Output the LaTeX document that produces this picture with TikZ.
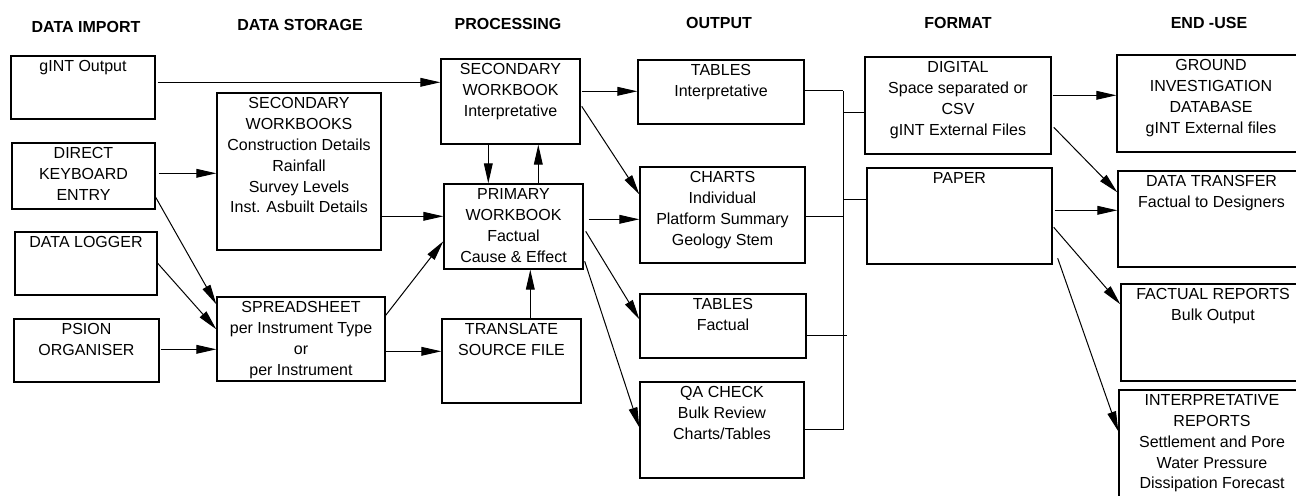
\documentclass[tikz,border=0pt]{standalone}
\usepackage{fontspec}
\setmainfont{Liberation Sans}
\usetikzlibrary{arrows.meta,calc}
\tikzset{
  boxst/.style={draw, line width=0.7pt, inner sep=0pt, rectangle},
  txt/.style={font=\fontsize{8}{10.4}\selectfont, align=center, inner sep=0pt},
  hdr/.style={font=\bfseries\fontsize{8}{10}\selectfont, inner sep=0pt},
  conn/.style={line width=0.5pt},
  arr/.style={conn, -{Triangle[length=10pt,width=4.4pt]}},
}
\newcommand\mybox[6]{%
  \node[boxst, minimum width={(#4-#2)*0.5pt}, minimum height={(#5-#3)*0.5pt}] (#1) at ({(#2+#4)/2},{(#3+#5)/2}) {};
  \node[txt, anchor=north] (#1t) at ([yshift=-2.5pt]#1.north) {#6};
}
\begin{document}
\begin{tikzpicture}[x=0.5pt,y=-0.5pt]
\clip (0,0) rectangle (1296,495);
\fill[white] (0,0) rectangle (1296,495);
% headers
\node[hdr] (h1) at (86,27) {DATA IMPORT};
\node[hdr] (h2) at (300,25) {DATA STORAGE};
\node[hdr] (h3) at (508,24) {PROCESSING};
\node[hdr] (h4) at (719,23) {OUTPUT};
\node[hdr] (h5) at (958,23) {FORMAT};
\node[hdr] (h6) at (1209,23) {END -USE};
% data import
\mybox{gint}{11}{56}{155}{119}{gINT Output}
\mybox{dke}{12}{143}{155}{209}{DIRECT\\KEYBOARD\\ENTRY}
\mybox{logger}{15}{232}{157}{295}{DATA LOGGER}
\mybox{psion}{14}{319}{159}{382}{PSION\\ORGANISER}
% storage
\mybox{secwbs}{217}{93}{381}{250}{SECONDARY\\WORKBOOKS\\Construction Details\\Rainfall\\Survey Levels\\Inst. Asbuilt Details}
\mybox{spread}{217}{297}{385}{381}{SPREADSHEET\\per Instrument Type\\or\\per Instrument}
% processing
\mybox{secwb}{441}{59}{580}{144}{SECONDARY\\WORKBOOK\\Interpretative}
\mybox{primwb}{444}{184}{583}{269}{PRIMARY\\WORKBOOK\\Factual\\Cause \& Effect}
\mybox{translate}{442}{319}{581}{403}{TRANSLATE\\SOURCE FILE}
% output
\mybox{tabint}{638}{60}{804}{124}{TABLES\\Interpretative}
\mybox{charts}{640}{167}{805}{263}{CHARTS\\Individual\\Platform Summary\\Geology Stem}
\mybox{tabfac}{640}{294}{806}{358}{TABLES\\Factual}
\mybox{qa}{640}{382}{804}{478}{QA CHECK\\Bulk Review\\Charts/Tables}
% format
\mybox{digital}{865}{57}{1051}{154}{DIGITAL\\Space separated or\\CSV\\gINT External Files}
\mybox{paper}{867}{168}{1052}{264}{PAPER}
% end use
\mybox{gidb}{1117}{55}{1305}{152}{GROUND\\INVESTIGATION\\DATABASE\\gINT External files}
\mybox{transfer}{1118}{171}{1305}{267}{DATA TRANSFER\\Factual to Designers}
\mybox{factrep}{1121}{284}{1305}{381}{FACTUAL REPORTS\\Bulk Output}
\mybox{interp}{1119}{390}{1305}{530}{INTERPRETATIVE\\REPORTS\\Settlement and Pore\\Water Pressure\\Dissipation Forecast}
% connectors: import -> storage/processing
\draw[arr] ($(gint.north east)+(2,27)$) -- ($(secwb.north west)+(0,24)$);
\draw[arr] ($(dke.north east)+(3,31)$) -- ($(secwbs.north west)+(0,81)$);
\draw[arr] ($(dke.north east)+(0,55)$) -- ($(spread.north west)+(0,8)$);
\draw[arr] ($(logger.north east)+(0,32)$) -- ($(spread.north west)+(0,33)$);
\draw[arr] ($(psion.north east)+(1,31)$) -- ($(spread.north west)+(0,53)$);
% storage -> processing
\draw[arr] ($(secwbs.north east)+(0,124)$) -- ($(primwb.north west)+(0,33)$);
\draw[arr] ($(spread.north east)+(0,19)$) -- ($(primwb.north west)+(0,58)$);
\draw[arr] ($(spread.north east)+(0,55)$) -- ($(translate.north west)+(0,33)$);
% within processing
\draw[arr] ($(secwb.south west)+(48,0)$) -- ($(primwb.north west)+(45,0)$);
\draw[arr] ($(primwb.north west)+(95,0)$) -- ($(secwb.south west)+(98,0)$);
\draw[arr] ($(translate.north west)+(89,0)$) -- ($(primwb.south west)+(87,0)$);
% processing -> output
\draw[arr] ($(secwb.north east)+(1,33)$) -- ($(tabint.north west)+(0,32)$);
\draw[arr] ($(secwb.north east)+(1,48)$) -- ($(charts.north west)+(0,28)$);
\draw[arr] ($(primwb.north east)+(5,36)$) -- ($(charts.north west)+(0,53)$);
\draw[arr] ($(primwb.north east)+(2,48)$) -- ($(tabfac.north west)+(0,26)$);
\draw[arr] ($(primwb.north east)+(1,78)$) -- ($(qa.north west)+(0,46)$);
% bus
\coordinate (bustop) at (843,91);
\coordinate (busbot) at (843,430);
\draw[conn] (bustop) -- (busbot);
\draw[conn] ($(tabint.north east)+(0,31)$) coordinate (o1) -- (o1 -| bustop);
\draw[conn] ($(charts.north east)+(0,50)$) coordinate (o2) -- (o2 -| bustop);
\draw[conn] ($(tabfac.north east)+(0,42)$) coordinate (o3) -- ($(o3 -| bustop)+(4,0)$);
\draw[conn] ($(qa.north east)+(0,48)$) coordinate (o4) -- (o4 -| bustop);
\draw[conn] ($(digital.north west)+(0,56)$) coordinate (f1) -- (f1 -| bustop);
\draw[conn] ($(paper.north west)+(0,32)$) coordinate (f2) -- (f2 -| bustop);
% format -> end use
\draw[arr] ($(digital.north east)+(1,39)$) -- ($(gidb.north west)+(0,41)$);
\draw[arr] ($(digital.north east)+(2,71)$) -- ($(transfer.north west)+(0,22)$);
\draw[arr] ($(paper.north east)+(2,43)$) -- ($(transfer.north west)+(0,40)$);
\draw[arr] ($(paper.north east)+(1,60)$) -- ($(factrep.north west)+(0,21)$);
\draw[arr] ($(paper.north east)+(5,91)$) -- ($(interp.north west)+(0,42)$);
\end{tikzpicture}
\end{document}
